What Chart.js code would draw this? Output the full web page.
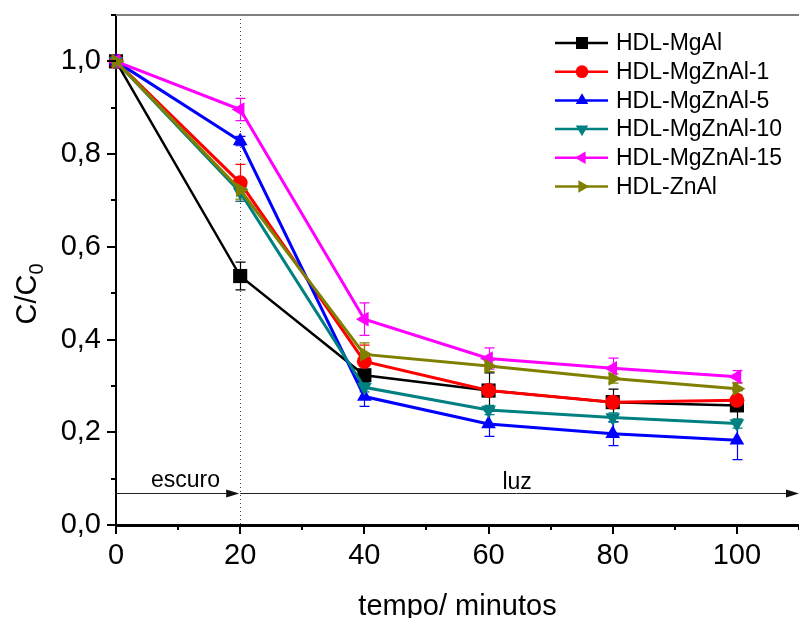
<!DOCTYPE html>
<html>
<head>
<meta charset="utf-8">
<script src="https://cdn.jsdelivr.net/npm/chart.js@4.4.1/dist/chart.umd.min.js"></script>
<style>
  body { margin: 0; background: #fff; }
  canvas { display: block; }
</style>
</head>
<body>
<canvas id="myChart" width="799" height="618"></canvas>
<script>
// values
const tempo = [0, 20, 40, 60, 80, 100];
const serieNames = ['HDL-MgAl', 'HDL-MgZnAl-1', 'HDL-MgZnAl-5', 'HDL-MgZnAl-10', 'HDL-MgZnAl-15', 'HDL-ZnAl'];

const mgAl     = [1.0, 0.537, 0.323, 0.290, 0.265, 0.258];
const mgZnAl1  = [1.0, 0.738, 0.353, 0.290, 0.265, 0.269];
const mgZnAl5  = [1.0, 0.828, 0.277, 0.218, 0.197, 0.183];
const mgZnAl10 = [1.0, 0.718, 0.297, 0.248, 0.232, 0.219];
const mgZnAl15 = [1.0, 0.896, 0.444, 0.359, 0.338, 0.320];
const znAl     = [1.0, 0.723, 0.368, 0.343, 0.316, 0.294];

// error bars (+/-)
const errMgAl     = [0, 0.030, 0.010, 0.038, 0.028, 0.032];
const errMgZnAl1  = [0, 0.040, 0.035, 0.010, 0.008, 0.010];
const errMgZnAl5  = [0, 0.010, 0.021, 0.027, 0.026, 0.042];
const errMgZnAl10 = [0, 0.020, 0.010, 0.010, 0.010, 0.010];
const errMgZnAl15 = [0, 0.024, 0.035, 0.023, 0.022, 0.013];
const errZnAl     = [0, 0.020, 0.025, 0.012, 0.010, 0.012];

const xTickLabels = [0, 20, 40, 60, 80, 100];
const yTickLabels = [0, 0.2, 0.4, 0.6, 0.8, 1.0];

const seriesValues = [mgAl, mgZnAl1, mgZnAl5, mgZnAl10, mgZnAl15, znAl];
const seriesErrors = [errMgAl, errMgZnAl1, errMgZnAl5, errMgZnAl10, errMgZnAl15, errZnAl];
const colors = ['#000000', '#ff0000', '#0000ff', '#008080', '#ff00ff', '#808000'];
const styles = ['rect', 'circle', 'triangle', 'triangle', 'triangle', 'triangle'];
const rotations = [0, 0, 0, 180, 270, 90];
const radii = [10, 7.5, 8.5, 8.5, 8.5, 8.5];

const FONT = '"Liberation Sans", Arial, sans-serif';

const datasets = seriesValues.map((vals, i) => ({
  label: serieNames[i],
  data: tempo.map((t, j) => ({ x: t, y: vals[j] })),
  errors: seriesErrors[i],
  borderColor: colors[i],
  backgroundColor: colors[i],
  borderWidth: i === 0 ? 2.5 : 3,
  pointStyle: styles[i],
  pointRotation: rotations[i],
  pointRadius: radii[i],
  pointBorderWidth: 0,
  tension: 0,
  clip: false,
  order: 5 - i
}));

const extras = {
  id: 'extras',
  beforeDatasetsDraw(chart) {
    const { ctx, chartArea, scales: { x, y } } = chart;
    ctx.save();
    // dotted line at 20 min
    ctx.strokeStyle = '#444';
    ctx.lineWidth = 1;
    ctx.setLineDash([1, 3]);
    ctx.beginPath();
    ctx.moveTo(Math.round(x.getPixelForValue(20)) + 0.5, chartArea.top);
    ctx.lineTo(Math.round(x.getPixelForValue(20)) + 0.5, chartArea.bottom);
    ctx.stroke();
    ctx.setLineDash([]);

    // arrows escuro / luz
    const ay = Math.round(y.getPixelForValue(0.07)) + 0.5;
    const arrow = (x0, x1) => {
      ctx.strokeStyle = '#222';
      ctx.fillStyle = '#111';
      ctx.lineWidth = 1;
      ctx.beginPath();
      ctx.moveTo(x0, ay);
      ctx.lineTo(x1 - 6, ay);
      ctx.stroke();
      ctx.beginPath();
      ctx.moveTo(x1, ay);
      ctx.lineTo(x1 - 13, ay - 4);
      ctx.lineTo(x1 - 13, ay + 4);
      ctx.closePath();
      ctx.fill();
    };
    arrow(x.getPixelForValue(0), x.getPixelForValue(20) - 1);
    arrow(x.getPixelForValue(20), chartArea.right);
    ctx.fillStyle = '#000';
    ctx.font = '23px ' + FONT;
    ctx.textAlign = 'center';
    ctx.textBaseline = 'alphabetic';
    ctx.fillText('escuro', x.getPixelForValue(11.2), ay - 7);
    ctx.fillText('luz', x.getPixelForValue(64.6), ay - 5);

    // error bars
    chart.data.datasets.forEach((ds) => {
      ctx.strokeStyle = ds.borderColor;
      ctx.lineWidth = 1.2;
      ds.data.forEach((p, j) => {
        const e = ds.errors[j];
        if (!e) return;
        const px = Math.round(x.getPixelForValue(p.x)) + 0.5;
        const top = y.getPixelForValue(p.y + e);
        const bot = y.getPixelForValue(p.y - e);
        ctx.beginPath();
        ctx.moveTo(px, top);
        ctx.lineTo(px, bot);
        ctx.moveTo(px - 5, top);
        ctx.lineTo(px + 5, top);
        ctx.moveTo(px - 5, bot);
        ctx.lineTo(px + 5, bot);
        ctx.stroke();
      });
    });
    ctx.restore();
  },
  afterDraw(chart) {
    const { ctx, chartArea, scales: { x, y } } = chart;
    ctx.save();
    // top frame line
    ctx.strokeStyle = '#808080';
    ctx.lineWidth = 2;
    ctx.beginPath();
    ctx.moveTo(chartArea.left, chartArea.top);
    ctx.lineTo(chartArea.right, chartArea.top);
    ctx.stroke();

    // ticks
    ctx.strokeStyle = '#000';
    ctx.lineWidth = 2;
    ctx.beginPath();
    for (let v = 0; v <= 11; v++) {
      const py = Math.round(y.getPixelForValue(v / 10));
      const len = v % 2 === 0 ? 9 : 5;
      ctx.moveTo(chartArea.left - len, py);
      ctx.lineTo(chartArea.left, py);
    }
    for (let v = 0; v <= 110; v += 10) {
      const px = Math.round(x.getPixelForValue(v));
      const len = v % 20 === 0 ? 9 : 5;
      ctx.moveTo(px, chartArea.bottom);
      ctx.lineTo(px, chartArea.bottom + len);
    }
    ctx.stroke();

    // axis titles
    ctx.fillStyle = '#000';
    ctx.textAlign = 'center';
    ctx.textBaseline = 'alphabetic';
    ctx.font = '29px ' + FONT;
    ctx.fillText('tempo/ minutos', (chartArea.left + chartArea.right) / 2, 615);

    ctx.save();
    ctx.translate(36, 294);
    ctx.rotate(-Math.PI / 2);
    ctx.textAlign = 'left';
    ctx.font = '29px ' + FONT;
    const w1 = ctx.measureText('C/C').width;
    ctx.font = '20px ' + FONT;
    const w2 = ctx.measureText('0').width;
    const sx = -(w1 + w2) / 2;
    ctx.font = '29px ' + FONT;
    ctx.fillText('C/C', sx, 0);
    ctx.font = '20px ' + FONT;
    ctx.fillText('0', sx + w1, 7);
    ctx.restore();

    // legend
    const lx0 = 555, lx1 = 608, lmx = 582, ltx = 616;
    chart.data.datasets.forEach((ds, i) => {
      const ly = 43 + i * 28.7;
      ctx.strokeStyle = ds.borderColor;
      ctx.lineWidth = 2.5;
      ctx.beginPath();
      ctx.moveTo(lx0, ly);
      ctx.lineTo(lx1, ly);
      ctx.stroke();
      ctx.fillStyle = ds.backgroundColor;
      Chart.helpers.drawPoint(ctx, {
        pointStyle: ds.pointStyle,
        rotation: ds.pointRotation,
        radius: ds.pointRadius * 0.85,
        borderWidth: 0
      }, lmx, ly);
      ctx.fillStyle = '#000';
      ctx.font = '23px ' + FONT;
      ctx.textAlign = 'left';
      ctx.textBaseline = 'middle';
      ctx.fillText(ds.label, ltx, ly + 1);
    });
    ctx.restore();
  }
};

new Chart(document.getElementById('myChart').getContext('2d'), {
  type: 'line',
  data: { datasets },
  options: {
    responsive: false,
    animation: false,
    layout: { autoPadding: false, padding: { top: 15, right: 0, left: 0, bottom: 0 } },
    plugins: { legend: { display: false }, tooltip: { enabled: false } },
    scales: {
      x: {
        type: 'linear',
        min: 0,
        max: 110,
        afterFit: (s) => { s.height = 93; s.paddingLeft = 0; s.paddingRight = 0; },
        grid: { display: false, drawTicks: false },
        border: { display: true, color: '#000', width: 3 },
        ticks: {
          stepSize: 10,
          autoSkip: false,
          maxRotation: 0,
          padding: 14,
          color: '#000',
          font: { family: FONT, size: 29 },
          callback: (v) => xTickLabels.includes(v) ? String(v) : ''
        }
      },
      y: {
        min: 0,
        max: 1.1,
        afterFit: (s) => { s.width = 116; s.paddingTop = 0; s.paddingBottom = 0; },
        grid: { display: false, drawTicks: false },
        border: { display: true, color: '#000', width: 2 },
        ticks: {
          stepSize: 0.1,
          autoSkip: false,
          padding: 15,
          color: '#000',
          font: { family: FONT, size: 29 },
          callback: (v) => {
            const r = Math.round(v * 10) / 10;
            return yTickLabels.includes(r) ? r.toFixed(1).replace('.', ',') : '';
          }
        }
      }
    }
  },
  plugins: [extras]
});
</script>
</body>
</html>
